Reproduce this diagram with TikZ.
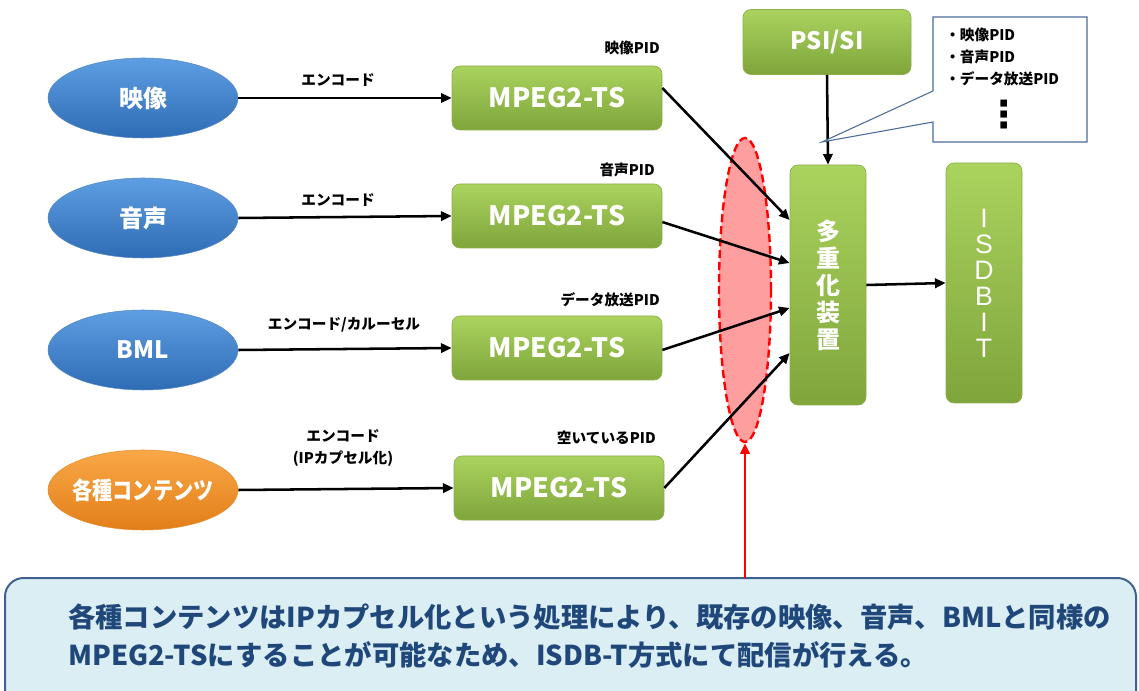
\documentclass[tikz,border=0pt]{standalone}
\usepackage{fontspec}
\newfontfamily\jp{Noto Sans CJK JP}
\newfontfamily\lsans{Liberation Sans}
\newfontfamily\dvs{DejaVu Sans}
\usetikzlibrary{arrows.meta,shapes.geometric,calc}
\definecolor{gtop}{HTML}{AAD35E}
\definecolor{gbot}{HTML}{7FA53B}
\definecolor{gline}{HTML}{8CB048}
\definecolor{btop}{HTML}{5E9EE2}
\definecolor{bbot}{HTML}{2E6CB5}
\definecolor{otop}{HTML}{F9A848}
\definecolor{obot}{HTML}{E27E18}
\definecolor{callline}{HTML}{4A6C9B}
\definecolor{notefill}{HTML}{DBEEF4}
\definecolor{noteline}{HTML}{3F6290}
\definecolor{notetext}{HTML}{1F477A}
\tikzset{
  ell/.style={ellipse, minimum width=142.5pt, minimum height=60pt, inner sep=0pt,
    text=white, font=\jp\bfseries\fontsize{18}{20}\selectfont},
  blueell/.style={ell, top color=btop, bottom color=bbot, draw=bbot!80!white, line width=0.4pt},
  orangeell/.style={ell, top color=otop, bottom color=obot, draw=obot!90!white, line width=0.4pt},
  gbox/.style={rounded corners=6pt, top color=gtop, bottom color=gbot, draw=gline, line width=0.5pt,
    text=white, inner sep=0pt},
  mpeg/.style={gbox, minimum width=157.5pt, minimum height=48pt, font=\jp\bfseries\fontsize{20}{22}\selectfont},
  tall/.style={gbox, minimum width=57pt, minimum height=180pt, align=center},
  lbl/.style={font=\jp\bfseries\fontsize{11}{13}\selectfont, inner sep=0pt, align=center},
  arr/.style={line width=1.9pt, -{Triangle[length=8pt,width=7pt]}},
}
\begin{document}
\begin{tikzpicture}[x=0.75pt,y=-0.75pt]
\useasboundingbox (0,0) rectangle (1139,691);
\clip (0,0) rectangle (1139,691);

% sources
\node[blueell] (v) at (143,98) {映像};
\node[blueell] (a) at (143,218) {音声};
\node[blueell] (b) at (143,350) {BML};
\node[orangeell] (c) at (143,490) {\makebox[0pt]{\scalebox{0.84}[1]{各種コンテンツ}}};

% MPEG2-TS boxes
\node[mpeg] (m1) at (557,98) {MPEG2-TS};
\node[mpeg] (m2) at (557,216) {MPEG2-TS};
\node[mpeg] (m3) at (557,348) {MPEG2-TS};
\node[mpeg] (m4) at (559,488) {MPEG2-TS};

% arrows source -> MPEG
\draw[arr] (v.east) -- (m1.west);
\draw[arr] (a.east) -- (m2.west);
\draw[arr] (b.east) -- (m3.west);
\draw[arr] (c.east) -- (m4.west);

% arrow labels
\node[lbl] (l1) at (338,80) {エンコード};
\node[lbl] (l2) at (338,200) {エンコード};
\node[lbl] (l3) at (344,325) {エンコード/カルーセル};
\node[lbl, font=\jp\bfseries\fontsize{11}{16}\selectfont] (l4) at (343,448) {エンコード\\(IPカプセル化)};

% PID labels
\node[lbl, anchor=east] (p1) at (660,48) {映像PID};
\node[lbl, anchor=east] (p2) at (655,170) {音声PID};
\node[lbl, anchor=east] (p3) at (660,300) {データ放送PID};
\node[lbl, anchor=east] (p4) at (656,438) {空いているPID};

% multiplexer, ISDB-T, PSI/SI
\node[tall, font=\jp\bfseries\fontsize{18}{20.25}\selectfont] (mux) at (828,285) {多\\重\\化\\装\\置};
\node[tall, font=\lsans\fontsize{20}{19.5}\selectfont] (isdb) at (984,283) {I\\S\\D\\B\\I\\T};
\node[gbox, minimum width=126pt, minimum height=48.75pt, font=\jp\bfseries\fontsize{18}{20}\selectfont] (psi) at (827,42) {PSI/SI};

% red ellipse
\node[ellipse, minimum width=39pt, minimum height=228pt, inner sep=0pt,
  fill=red, fill opacity=0.38, draw=red, draw opacity=1, line width=1.8pt,
  dash pattern=on 6pt off 3pt] (hl) at (745,290) {};

% arrows MPEG -> mux
\draw[arr] ($(m1.east)+(0,-10)$) -- ($(mux.west)+(0,-65)$);
\draw[arr] ($(m2.east)+(0,6)$) -- ($(mux.west)+(0,-22)$);
\draw[arr] ($(m3.east)+(0,2)$) -- ($(mux.west)+(0,23)$);
\draw[arr] (m4.east) -- ($(mux.west)+(0,68)$);

\draw[arr] (psi.south) -- (mux.north);
\draw[arr] (mux.east) -- (isdb.west);

% callout
\coordinate (tip) at (822,142);
\draw[callline, fill=white, line width=0.8pt] (933,17) -- (1087,17) -- (1087,142) -- (933,142) -- (933,122) -- (tip) -- (933,91) -- cycle;
\node[lbl, anchor=north west, align=left, font=\jp\bfseries\fontsize{11}{16.5}\selectfont] (cl) at (945,28) {・映像PID\\・音声PID\\・データ放送PID};
\node[inner sep=0pt, font=\dvs\bfseries\fontsize{28}{28}\selectfont] (dots) at (1004,115) {⋮};

% bottom note
\draw[noteline, fill=notefill, line width=1.5pt, rounded corners=14pt] (5,578) rectangle (1136,720);
\node[anchor=west, inner sep=0pt, text=notetext, font=\jp\bfseries\fontsize{20.5}{29}\selectfont, align=left] (note) at (68,636)
  {各種コンテンツはIPカプセル化という処理により、既存の映像、音声、BMLと同様の\\MPEG2-TSにすることが可能なため、ISDB-T方式にて配信が行える。};

% red arrow
\coordinate (rb) at (745,578);
\draw[red, line width=2.2pt, -{Triangle[length=8pt,width=7pt]}] (rb) -- (hl.south);
\end{tikzpicture}
\end{document}
